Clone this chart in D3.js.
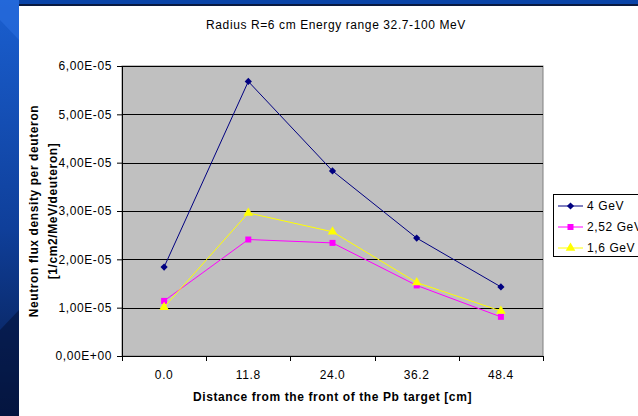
<!DOCTYPE html>
<html>
<head>
<meta charset="utf-8">
<script src="https://cdn.jsdelivr.net/npm/d3@7"></script>
<style>
  body { margin: 0; padding: 0; overflow: hidden; background: #fff; }
  svg { display: block; font-family: "Liberation Sans", Arial, sans-serif; }
  svg text { letter-spacing: 0.6px; }
</style>
</head>
<body>
<div id="chart"></div>
<script>
// Chart data
const distances = ["0.0", "11.8", "24.0", "36.2", "48.4"];
const seriesNames = ["4 GeV", "2,52 GeV", "1,6 GeV"];
const flux4GeV = [1.84e-5, 5.68e-5, 3.83e-5, 2.44e-5, 1.43e-5];
const flux252GeV = [1.14e-5, 2.41e-5, 2.34e-5, 1.46e-5, 0.81e-5];
const flux16GeV = [1.01e-5, 2.96e-5, 2.57e-5, 1.52e-5, 0.93e-5];
const yTicks = [0, 1e-5, 2e-5, 3e-5, 4e-5, 5e-5, 6e-5];

const colors = ["#000080", "#ff00ff", "#ffff00"];
const symbols = [d3.symbolSquare, d3.symbolSquare, d3.symbolTriangle];
const symbolSizes = [26, 36, 40];
const symbolRotate = [45, 0, 0];
const allSeries = [flux4GeV, flux252GeV, flux16GeV];

const svgWidth = 638;
const svgHeight = 416;
const margin = { top: 66, right: 95, bottom: 60, left: 122 };
const width = 543 - margin.left;
const height = 356 - margin.top;
const fontSize = 12;

const svg = d3.select("#chart")
    .append("svg")
    .attr("width", svgWidth)
    .attr("height", svgHeight);

// Slide template background (blue strip left + top band)
const defs = svg.append("defs");
const grad = defs.append("linearGradient")
    .attr("id", "bg").attr("x1", 0).attr("y1", 0).attr("x2", 0).attr("y2", 1);
grad.append("stop").attr("offset", "0%").attr("stop-color", "#1a5fd0");
grad.append("stop").attr("offset", "55%").attr("stop-color", "#0f3f9a");
grad.append("stop").attr("offset", "100%").attr("stop-color", "#071a48");

svg.append("rect").attr("width", svgWidth).attr("height", svgHeight).attr("fill", "url(#bg)");
svg.append("polygon")
    .attr("points", "0,0 19,0 19,40 0,20")
    .attr("fill", "#2a6ee0").attr("opacity", 0.6);
svg.append("polygon")
    .attr("points", "0,330 19,310 19,416 0,416")
    .attr("fill", "#04133a").attr("opacity", 0.6);
svg.append("rect").attr("x", 19).attr("y", 0).attr("width", svgWidth - 19).attr("height", 5)
    .attr("fill", "#0a44a8");
svg.append("rect").attr("x", 19).attr("y", 4).attr("width", svgWidth - 19).attr("height", 2)
    .attr("fill", "#0a1a40");
svg.append("rect").attr("x", 19).attr("y", 6).attr("width", svgWidth - 19).attr("height", svgHeight - 6)
    .attr("fill", "#ffffff");

const g = svg.append("g").attr("transform", `translate(${margin.left},${margin.top})`);

// Scales
const xScale = d3.scaleBand().domain(distances).range([0, width]);
const yScale = d3.scaleLinear().domain([0, 6e-5]).range([height, 0]);

// Plot area
g.append("rect").attr("width", width).attr("height", height)
    .attr("fill", "#c0c0c0").attr("stroke", "#808080").attr("stroke-width", 1);

// Gridlines
g.selectAll(".grid")
    .data(yTicks.slice(1))
    .enter().append("line")
    .attr("class", "grid")
    .attr("x1", 0).attr("x2", width)
    .attr("y1", d => Math.round(yScale(d)) + 0.5)
    .attr("y2", d => Math.round(yScale(d)) + 0.5)
    .attr("stroke", "#000").attr("stroke-width", 1);

// Axes
const fmt = d => {
    const s = d3.format(".2e")(d).replace(".", ",");
    return s.replace(/e([+-])(\d)$/, "E$10$2").replace("e", "E");
};
const yAxis = g.append("g")
    .call(d3.axisLeft(yScale).tickValues(yTicks).tickFormat(fmt).tickSize(5).tickPadding(5));
const xAxis = g.append("g")
    .attr("transform", `translate(0,${height})`)
    .call(d3.axisBottom(xScale).tickSize(5).tickPadding(9));
// category ticks sit on band boundaries
xAxis.selectAll(".tick line").remove();
xAxis.selectAll(".edge")
    .data(d3.range(distances.length + 1))
    .enter().append("line")
    .attr("x1", i => Math.round(i * xScale.step()) + 0.5)
    .attr("x2", i => Math.round(i * xScale.step()) + 0.5)
    .attr("y1", 0).attr("y2", 5).attr("stroke", "#000");

[yAxis, xAxis].forEach(ax => {
    ax.select(".domain").attr("stroke", "#000");
    ax.selectAll("text").attr("font-size", fontSize).attr("fill", "#000")
        .attr("font-family", "Liberation Sans, Arial, sans-serif");
    ax.selectAll(".tick line").attr("stroke", "#000");
});

// Lines and markers
const line = d3.line()
    .x((d, i) => xScale(distances[i]) + xScale.bandwidth() / 2)
    .y(d => yScale(d));

allSeries.forEach((values, s) => {
    g.append("path")
        .datum(values)
        .attr("fill", "none")
        .attr("stroke", colors[s])
        .attr("stroke-width", 1)
        .attr("d", line);
    g.selectAll(".pt" + s)
        .data(values)
        .enter().append("path")
        .attr("class", "pt" + s)
        .attr("d", d3.symbol().type(symbols[s]).size(symbolSizes[s]))
        .attr("transform", (d, i) =>
            `translate(${xScale(distances[i]) + xScale.bandwidth() / 2},${yScale(d)}) rotate(${symbolRotate[s]})`)
        .attr("fill", colors[s]);
});

// Title
svg.append("text")
    .attr("x", 336).attr("y", 29)
    .attr("text-anchor", "middle")
    .attr("font-size", fontSize)
    .text("Radius R=6 cm Energy range 32.7-100 MeV");

// X axis title
svg.append("text")
    .attr("x", margin.left + width / 2).attr("y", 401)
    .attr("text-anchor", "middle")
    .attr("font-size", fontSize).attr("font-weight", "bold")
    .text("Distance from the front of the Pb target [cm]");

// Y axis title (two lines)
const yTitle = svg.append("text")
    .attr("transform", `translate(0,${margin.top + height / 2}) rotate(-90)`)
    .attr("text-anchor", "middle")
    .attr("font-size", fontSize).attr("font-weight", "bold");
yTitle.append("tspan").attr("x", 0).attr("y", 38).text("Neutron flux density per deuteron");
yTitle.append("tspan").attr("x", 0).attr("y", 57).text("[1/cm2/MeV/deuteron]");

// Legend
const legend = svg.append("g").attr("transform", "translate(553,194)");
legend.append("rect").attr("x", 0.5).attr("y", 0.5).attr("width", 100).attr("height", 62)
    .attr("fill", "#fff").attr("stroke", "#000");
seriesNames.forEach((name, s) => {
    const ly = 12 + s * 21;
    legend.append("line").attr("x1", 5).attr("x2", 30).attr("y1", ly).attr("y2", ly)
        .attr("stroke", colors[s]).attr("stroke-width", 1);
    legend.append("path")
        .attr("d", d3.symbol().type(symbols[s]).size(symbolSizes[s]))
        .attr("transform", `translate(17.5,${ly}) rotate(${symbolRotate[s]})`)
        .attr("fill", colors[s]);
    legend.append("text").attr("x", 34).attr("y", ly + 4)
        .attr("font-size", fontSize).text(name);
});
</script>
</body>
</html>
